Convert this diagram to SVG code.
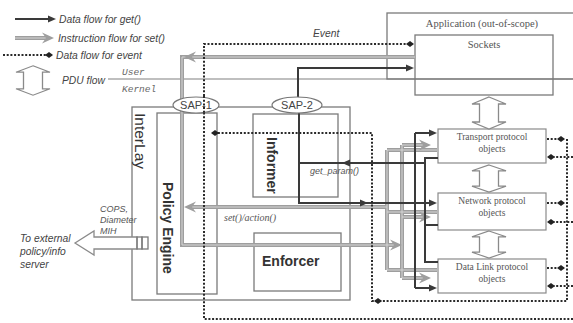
<svg xmlns="http://www.w3.org/2000/svg" width="573" height="323" viewBox="0 0 573 323">
<style>
 .box{fill:none;stroke:#7a7a7a;stroke-width:1.3}
 .pbox{fill:#fff;stroke:#8a8a8a;stroke-width:1.2}
 .dark{fill:none;stroke:#3a3a3a;stroke-width:2}
 .gray{fill:none;stroke:#9e9e9e;stroke-width:4}
 .grayin{fill:none;stroke:#d6d6d6;stroke-width:1}
 .dot{fill:none;stroke:#2a2a2a;stroke-width:2;stroke-dasharray:2 1.7}
 .thin{fill:none;stroke:#aaa;stroke-width:1.6}
 .lg{font-family:"Liberation Sans",Arial,sans-serif;font-style:italic;font-size:10.3px;fill:#444}
 .sm{font-family:"Liberation Sans",Arial,sans-serif;font-style:italic;font-size:9px;fill:#555}
 .sf{font-family:"Liberation Serif","Times New Roman",serif;fill:#555;text-anchor:middle}
 .bold{font-family:"Liberation Sans",Arial,sans-serif;font-weight:bold;font-size:14px;fill:#333}
 .mono{font-family:"Liberation Mono","Courier New",monospace;font-style:italic;font-size:9.5px;fill:#666}
 .gh{fill:#9e9e9e}
 .dh{fill:#3a3a3a}
 .ph{fill:#222}
 .pdu{fill:#fff;stroke:#8a8a8a;stroke-width:1.3}
 .sap{fill:#fff;stroke:#777;stroke-width:1.2}
 .sapt{font-family:"Liberation Sans",Arial,sans-serif;font-size:11px;fill:#444;text-anchor:middle}
</style>
<defs>
 <path id="gHead" d="M0,0 L-12,-5.5 L-8,0 L-12,5.5 Z"/>
 <path id="dHead" d="M0,0 L-8,-3.5 L-8,3.5 Z"/>
 <path id="pHead" d="M0,0 L-4,-3 L-8,0 L-4,3 Z"/>
 <path id="pduShape" d="M0,-16 L17,-9 L9.5,-9 L9.5,9 L17,9 L0,16 L-17,9 L-9.5,9 L-9.5,-9 L-17,-9 Z"/>
</defs>
<rect x="0" y="0" width="573" height="323" fill="#fff"/>

<g id="legend">
 <path class="dark" d="M15,19 H49"/>
 <use href="#dHead" class="dh" transform="translate(56,19)"/>
 <text class="lg" x="59" y="23">Data flow for get()</text>
 <path class="gray" d="M15,38 H46"/>
 <path class="grayin" d="M15,38 H46"/>
 <use href="#gHead" class="gh" transform="translate(54,38)"/>
 <text class="lg" x="58" y="42">Instruction flow for set()</text>
 <path class="dot" d="M3,55 H48"/>
 <use href="#pHead" class="ph" transform="translate(53,55)"/>
 <text class="lg" x="56" y="59">Data flow for event</text>
 <use href="#pduShape" class="pdu" transform="translate(33,80.5) scale(1,0.92)"/>
 <text class="lg" x="62" y="84">PDU flow</text>
 <text class="mono" x="122" y="75">User</text>
 <text class="mono" x="122" y="92">Kernel</text>
</g>

<g id="kernel-line">
 <path class="thin" d="M108,79 H573"/>
</g>

<g id="application">
 <rect class="box" x="387" y="13" width="200" height="66"/>
 <text class="sf" x="482" y="27" font-size="10.5">Application (out-of-scope)</text>
</g>
<g id="sockets">
 <rect class="box" x="415" y="35" width="138" height="60"/>
 <text class="sf" x="484" y="48" font-size="10.5">Sockets</text>
</g>

<g id="interlay">
 <rect class="box" x="132" y="107" width="218" height="193"/>
 <text transform="translate(135,113) rotate(90)" font-family="Liberation Sans,Arial,sans-serif" font-size="15.5" fill="#333">InterLay</text>
</g>
<g id="policy-engine">
 <rect class="box" x="157" y="113" width="60" height="181"/>
 <text class="bold" transform="translate(163,182) rotate(90)">Policy Engine</text>
</g>
<g id="informer">
 <rect class="box" x="253" y="114" width="85" height="83"/>
 <text class="bold" transform="translate(267,137) rotate(90)">Informer</text>
</g>
<g id="enforcer">
 <rect class="box" x="254" y="233" width="87" height="58"/>
 <text class="bold" x="262" y="266">Enforcer</text>
</g>

<g id="transport">
 <rect class="pbox" x="438" y="129" width="108" height="34"/>
 <text class="sf" x="492" y="140" font-size="9.5">Transport protocol</text>
 <text class="sf" x="492" y="152" font-size="9.5">objects</text>
</g>
<g id="network">
 <rect class="pbox" x="438" y="193" width="108" height="37"/>
 <text class="sf" x="492" y="204" font-size="9.5">Network protocol</text>
 <text class="sf" x="492" y="216" font-size="9.5">objects</text>
</g>
<g id="datalink">
 <rect class="pbox" x="438" y="259" width="108" height="34"/>
 <text class="sf" x="492" y="270" font-size="9.5">Data Link protocol</text>
 <text class="sf" x="492" y="282" font-size="9.5">objects</text>
</g>

<g id="external">
 <path class="pdu" d="M75,243 L94,231 L94,237 L137,237 L137,249 L94,249 L94,255 Z"/>
 <rect class="box" x="137" y="237" width="5" height="12" fill="#fff"/>
 <rect class="box" x="142" y="237" width="6" height="12" fill="#fff"/>
 <text class="sm" x="100" y="212">COPS,</text>
 <text class="sm" x="100" y="223">Diameter</text>
 <text class="sm" x="100" y="234">MIH</text>
 <text class="lg" x="20" y="242" font-size="11">To external</text>
 <text class="lg" x="20" y="255" font-size="11">policy/info</text>
 <text class="lg" x="20" y="268" font-size="11">server</text>
</g>

<g id="connectors">
 <!-- gray instruction flows -->
 <path class="gray" d="M415,57 H182 V245 H395"/>
 <path class="gray" d="M387,207 H189"/>
 <path class="gray" d="M387,150 V270 M387,150 H437 M387,212 H437 M387,270 H437"/>
 <path class="gray" d="M402,145 V278 M402,145 H424 M402,217 H424 M402,278 H424"/>
 <path class="grayin" d="M415,57 H182 V245 H395 M387,207 H189 M387,150 V270 M387,150 H437 M387,212 H437 M387,270 H437 M402,145 V278 M402,145 H424 M402,217 H424 M402,278 H424"/>
 <use href="#gHead" class="gh" transform="translate(184,57) rotate(180)"/>
 <use href="#gHead" class="gh" transform="translate(184,207) rotate(180)"/>
 <use href="#gHead" class="gh" transform="translate(402,245)"/>
 <use href="#gHead" class="gh" transform="translate(431,145)"/>
 <use href="#gHead" class="gh" transform="translate(431,217)"/>
 <use href="#gHead" class="gh" transform="translate(431,278)"/>

 <!-- dark get flows -->
 <path class="dark" d="M298,100 V68 H407"/>
 <use href="#dHead" class="dh" transform="translate(414,68)"/>
 <path class="dark" d="M299,112 V203 H430"/>
 <use href="#dHead" class="dh" transform="translate(368,203)"/>
 <use href="#dHead" class="dh" transform="translate(437,203)"/>
 <path class="dark" d="M415,133 V288 M415,133 H430 M415,288 H430"/>
 <use href="#dHead" class="dh" transform="translate(437,133)"/>
 <use href="#dHead" class="dh" transform="translate(437,288)"/>
 <path class="dark" d="M438,158 H425 V262 H438 M425,225 H438 M425,163 H299"/>
 <use href="#dHead" class="dh" transform="translate(342,163) rotate(180)"/>

 <!-- dotted event flows -->
 <path class="dot" d="M573,319 H204 V44 H407"/>
 <use href="#pHead" class="ph" transform="translate(414,44)"/>
 <path class="dot" d="M567,139 V301 H372 V133 H218"/>
 <use href="#pHead" class="ph" transform="translate(374,301) rotate(180)"/>
 <use href="#pHead" class="ph" transform="translate(211,133) rotate(180)"/>
 <path class="dot" d="M547,139 H558 M547,203 H558 M547,268 H558"/>
 <use href="#pHead" class="ph" transform="translate(565,139)"/>
 <use href="#pHead" class="ph" transform="translate(565,203)"/>
 <use href="#pHead" class="ph" transform="translate(565,268)"/>
 <path class="dot" d="M573,157 H554 M573,222 H554 M573,286 H554"/>
 <use href="#pHead" class="ph" transform="translate(547,157) rotate(180)"/>
 <use href="#pHead" class="ph" transform="translate(547,222) rotate(180)"/>
 <use href="#pHead" class="ph" transform="translate(547,286) rotate(180)"/>

 <!-- PDU flows -->
 <use href="#pduShape" class="pdu" transform="translate(489,113)"/>
 <use href="#pduShape" class="pdu" transform="translate(489,178.5) scale(1,0.85)"/>
 <use href="#pduShape" class="pdu" transform="translate(489,244.5) scale(1,0.85)"/>
</g>

<g id="sap1">
 <ellipse class="sap" cx="196" cy="105" rx="23" ry="8"/>
 <text class="sapt" x="196" y="109">SAP-1</text>
</g>
<g id="sap2">
 <ellipse class="sap" cx="297" cy="105" rx="25" ry="8"/>
 <text class="sapt" x="297" y="109">SAP-2</text>
</g>
<path class="dot" d="M204,96 V114"/>

<g id="labels">
 <text class="lg" x="313" y="37">Event</text>
 <text class="sm" x="310" y="174" font-size="8.5">get_param()</text>
 <text x="224" y="221" font-family="Liberation Serif,Times New Roman,serif" font-style="italic" font-size="10" fill="#555">set()/action()</text>
</g>
</svg>
